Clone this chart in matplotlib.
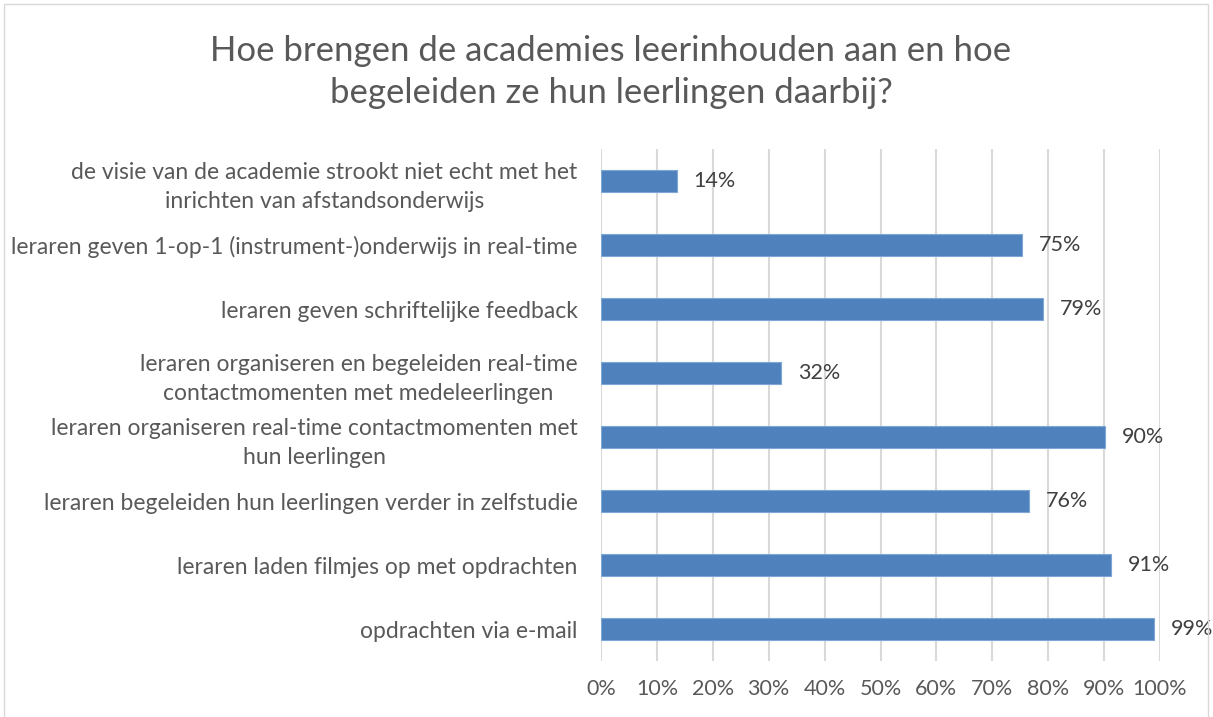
import matplotlib.pyplot as plt
from matplotlib.patches import Rectangle
import numpy as np

plt.rcParams['font.family'] = ['Lato', 'DejaVu Sans']

# Data (top to bottom as shown in the chart)
categories = [
    'de visie van de academie strookt niet echt met het\ninrichten van afstandsonderwijs',
    'leraren geven 1-op-1 (instrument-)onderwijs in real-time',
    'leraren geven schriftelijke feedback',
    'leraren organiseren en begeleiden real-time\ncontactmomenten met medeleerlingen',
    'leraren organiseren real-time contactmomenten met\nhun leerlingen',
    'leraren begeleiden hun leerlingen verder in zelfstudie',
    'leraren laden filmjes op met opdrachten',
    'opdrachten via e-mail',
]
values = [13.6, 75.3, 79.1, 32.2, 90.1, 76.5, 91.2, 98.9]
value_labels = ['14%', '75%', '79%', '32%', '90%', '76%', '91%', '99%']
x_ticks = list(range(0, 101, 10))
x_ticklabels = [f'{t}%' for t in x_ticks]

title = 'Hoe brengen de academies leerinhouden aan en hoe\nbegeleiden ze hun leerlingen daarbij?'

W, H = 1213, 717
fig = plt.figure(figsize=(W / 100, H / 100), dpi=100)
ax = fig.add_axes([601 / W, 1 - 661 / H, (1160 - 601) / W, (661 - 149) / H])

ypos = np.arange(len(categories))[::-1]
ax.barh(ypos, values, height=0.35, color='#4F81BD', edgecolor='#7EA6D6', linewidth=0.8, zorder=3)

for y, v, lab in zip(ypos, values, value_labels):
    ax.text(v + 3.0, y, lab, va='center', ha='left', fontsize=15.5, color='#404040')

ax.set_xlim(0, 100)
ax.set_ylim(-0.5, len(categories) - 0.5)
ax.set_xticks(x_ticks)
ax.set_xticklabels(x_ticklabels, fontsize=15.5, color='#595959')
ax.set_yticks(ypos)
ax.set_yticklabels(categories, fontsize=16.5, color='#595959', linespacing=1.5,
                   multialignment='center')
ax.tick_params(axis='y', length=0, pad=17)
ax.tick_params(axis='x', length=0, pad=13)
ax.grid(axis='x', color='#D9D9D9', linewidth=1.5, zorder=0)
for s in ax.spines.values():
    s.set_visible(False)

fig.text(611 / W, 1 - 72 / H, title, ha='center', va='center', fontsize=25,
         color='#595959', linespacing=1.35)

fig.patches.append(Rectangle((4 / W, -0.01), (1208 - 4) / W, 1 - 4 / H + 0.01,
                             transform=fig.transFigure, fill=False,
                             edgecolor='#D9D9D9', linewidth=1))

fig.savefig('out.png', dpi=100)
